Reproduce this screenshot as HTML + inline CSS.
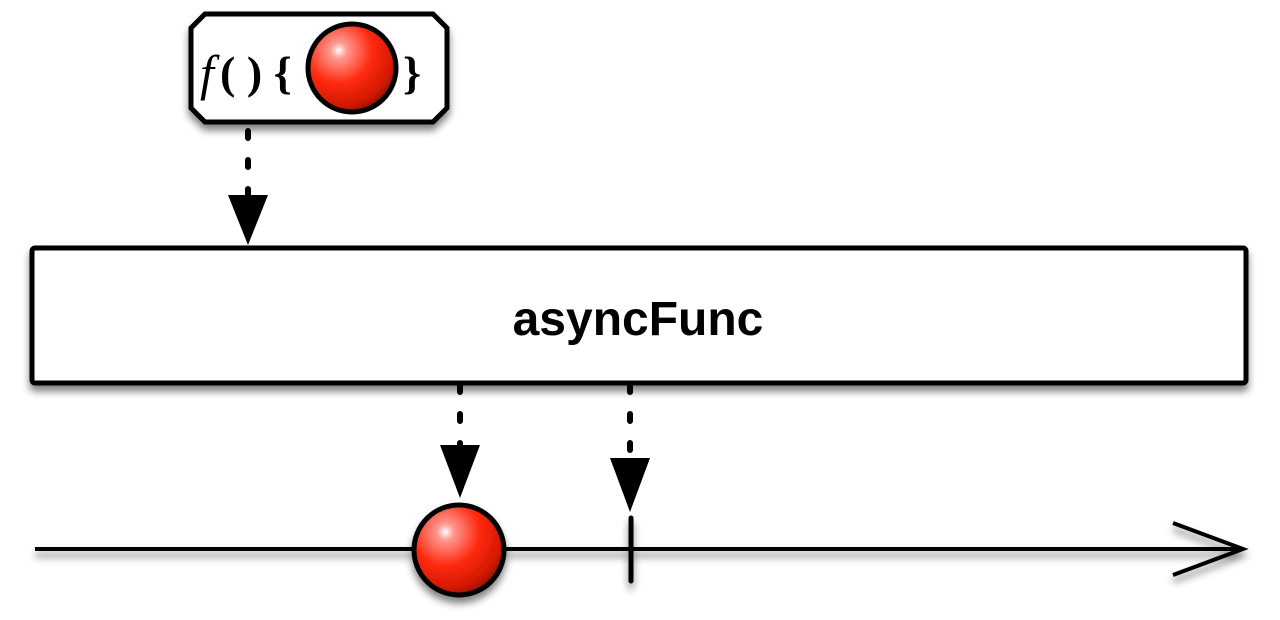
<!DOCTYPE html>
<html><head><style>body{margin:0;background:#fff}svg{display:block}</style></head><body>
<svg width="1280" height="620" xmlns="http://www.w3.org/2000/svg">
<defs>
<radialGradient id="g" cx="0.35" cy="0.3" r="0.75">
<stop offset="0" stop-color="#fff"/><stop offset="0.12" stop-color="#ff9a90"/><stop offset="0.5" stop-color="#ff2a10"/><stop offset="0.85" stop-color="#d01800"/><stop offset="1" stop-color="#801000"/>
</radialGradient>
<filter id="s" x="-10%" y="-10%" width="130%" height="140%"><feGaussianBlur in="SourceAlpha" stdDeviation="4"/><feOffset dx="0" dy="6"/><feComponentTransfer><feFuncA type="linear" slope="0.5"/></feComponentTransfer><feMerge><feMergeNode/><feMergeNode in="SourceGraphic"/></feMerge></filter>
</defs>
<g stroke="#000" stroke-width="6" stroke-linecap="round" stroke-dasharray="7 22" fill="none">
<line x1="248" y1="131" x2="248" y2="198"/>
<line x1="460" y1="385" x2="460" y2="446"/>
<line x1="630" y1="385" x2="630" y2="458"/>
</g>
<g fill="#000">
<polygon points="228,195 268,195 248,245"/>
<polygon points="440,445 480,445 460,498"/>
<polygon points="610,458 650,458 630,512"/>
</g>
<path d="M205,14 L433,14 L447,28 L447,108 L433,122 L205,122 L191,108 L191,28 Z" fill="#fff" stroke="#000" stroke-width="5" filter="url(#s)"/>
<text x="200" y="90" font-family="Liberation Serif, serif" font-size="50" font-style="italic">f</text>
<text x="220" y="88" font-family="Liberation Serif, serif" font-size="46" font-weight="bold">( ) {</text>
<text x="403" y="88" font-family="Liberation Serif, serif" font-size="46" font-weight="bold">}</text>
<circle cx="352" cy="68" r="44" fill="url(#g)" stroke="#000" stroke-width="5"/>
<rect x="32" y="248" width="1214" height="135" rx="3" fill="#fff" stroke="#000" stroke-width="5" filter="url(#s)"/>
<text x="638" y="335" text-anchor="middle" font-family="Liberation Sans, sans-serif" font-weight="bold" font-size="48">asyncFunc</text>
<g filter="url(#s)">
<line x1="35" y1="549" x2="1243" y2="549" stroke="#000" stroke-width="4"/>
<polyline points="1173,523 1243,549 1173,575" fill="none" stroke="#000" stroke-width="4"/>
<line x1="631" y1="518" x2="631" y2="581" stroke="#000" stroke-width="5" stroke-linecap="round"/>
<circle cx="459" cy="550" r="45" fill="url(#g)" stroke="#000" stroke-width="5"/>
</g>
</svg>
</body></html>
